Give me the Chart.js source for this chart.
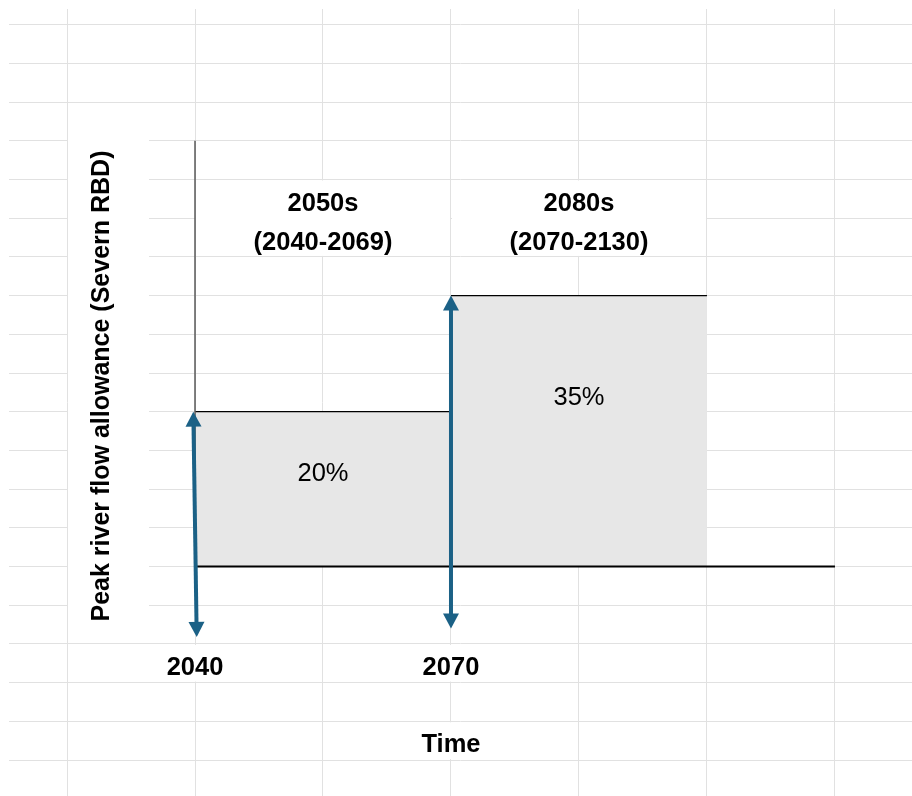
<!DOCTYPE html>
<html>
<head>
<meta charset="utf-8">
<script src="https://cdn.jsdelivr.net/npm/chart.js@4.4.1/dist/chart.umd.min.js"></script>
<style>
  html, body { margin: 0; padding: 0; background: #fff; }
  canvas { display: block; }
</style>
</head>
<body>
<canvas id="allowanceChart" width="912" height="796"></canvas>
<script>
// Epochs and their peak river flow allowances (Severn RBD)
const epochNames = ['2050s', '2080s'];
const epochRanges = ['(2040-2069)', '(2070-2130)'];
const epochStart = [2040, 2070];
const epochEnd = [2070, 2100];
const allowance = [20, 35];
const allowanceLabels = ['20%', '35%'];
const yearLabels = ['2040', '2070'];

// Double-headed arrows at the start of each epoch
const arrowTopYear = [2039.8, 2070];
const arrowBottomYear = [2040.2, 2070];
const arrowBottom = [-9.1, -8];

// Axis lines
const axisTop = 55;
const baselineEnd = 2115;

const xTitle = 'Time';
const yTitle = 'Peak river flow allowance (Severn RBD)';

const FONT = "'Liberation Sans', Arial, sans-serif";
const ARROW_BLUE = '#1b6186';
const GRID = '#e1e1e1';

// white cells where spreadsheet text hides the grid lines
const cellMasks = {
    id: 'cellMasks',
    beforeDatasetsDraw(chart) {
        const ctx = chart.ctx;
        const xs = chart.scales.x, ys = chart.scales.y;
        ctx.save();
        ctx.fillStyle = '#fff';
        // y title cell
        const top = ys.getPixelForValue(60) + 1;
        ctx.fillRect(xs.getPixelForValue(2025) + 1, top, 81, ys.getPixelForValue(-10) - 1 - top);
        // epoch title cells
        const tTop = ys.getPixelForValue(50) + 1;
        const tH = ys.getPixelForValue(40) - 1 - tTop;
        epochStart.forEach((s, i) => {
            const x0 = xs.getPixelForValue(s) + 1;
            const x1 = xs.getPixelForValue(epochEnd[i]) - 1;
            ctx.fillRect(x0, tTop, x1 - x0, tH);
        });
        // year label row and Time row
        const r1 = ys.getPixelForValue(-10) + 1, r1b = ys.getPixelForValue(-15) - 1;
        epochStart.forEach(s => {
            ctx.fillRect(xs.getPixelForValue(s) - 3, r1, 6, r1b - r1);
        });
        const r2 = ys.getPixelForValue(-20) + 1, r2b = ys.getPixelForValue(-25) - 1;
        ctx.fillRect(xs.getPixelForValue(2070) - 3, r2, 6, r2b - r2);
        ctx.restore();
    }
};

// arrows: shaft and both heads from the dataset points
const arrowHeads = {
    id: 'arrowHeads',
    afterDatasetsDraw(chart) {
        const ctx = chart.ctx;
        chart.data.datasets.forEach((ds, i) => {
            if (!ds.arrow) return;
            const pts = chart.getDatasetMeta(i).data;
            const a = pts[0], b = pts[pts.length - 1];
            const dx = b.x - a.x, dy = b.y - a.y;
            const len = Math.hypot(dx, dy);
            const ux = dx / len, uy = dy / len;
            const headLen = 15, headW = 8;
            ctx.save();
            ctx.strokeStyle = ARROW_BLUE;
            ctx.fillStyle = ARROW_BLUE;
            ctx.lineWidth = 4;
            ctx.beginPath();
            ctx.moveTo(a.x + ux * (headLen - 2), a.y + uy * (headLen - 2));
            ctx.lineTo(b.x - ux * (headLen - 2), b.y - uy * (headLen - 2));
            ctx.stroke();
            [[a, -1], [b, 1]].forEach(([p, dir]) => {
                const tx = p.x, ty = p.y;
                const bx = tx - dir * ux * headLen, by = ty - dir * uy * headLen;
                ctx.beginPath();
                ctx.moveTo(tx, ty);
                ctx.lineTo(bx - uy * headW, by + ux * headW);
                ctx.lineTo(bx + uy * headW, by - ux * headW);
                ctx.closePath();
                ctx.fill();
            });
            ctx.restore();
        });
    }
};

// the texts of the diagram
const diagramText = {
    id: 'diagramText',
    afterDatasetsDraw(chart) {
        const ctx = chart.ctx;
        const xs = chart.scales.x, ys = chart.scales.y;
        ctx.save();
        ctx.fillStyle = '#000';
        ctx.textAlign = 'center';
        ctx.textBaseline = 'alphabetic';

        const titleMid = ys.getPixelForValue(45);
        epochNames.forEach((name, i) => {
            const cx = (xs.getPixelForValue(epochStart[i]) + xs.getPixelForValue(epochEnd[i])) / 2;
            ctx.font = 'bold 25.5px ' + FONT;
            ctx.fillText(name, cx, titleMid - 7.5);
            ctx.fillText(epochRanges[i], cx, titleMid + 32);
        });

        const valueRow = [11, 20.9];
        ctx.font = '25.5px ' + FONT;
        allowanceLabels.forEach((lab, i) => {
            const cx = (xs.getPixelForValue(epochStart[i]) + xs.getPixelForValue(epochEnd[i])) / 2;
            ctx.fillText(lab, cx, ys.getPixelForValue(valueRow[i]));
        });

        ctx.font = 'bold 25.5px ' + FONT;
        yearLabels.forEach((lab, i) => {
            ctx.fillText(lab, xs.getPixelForValue(epochStart[i]), ys.getPixelForValue(-14));
        });
        ctx.fillText(xTitle, xs.getPixelForValue(2070), ys.getPixelForValue(-24));

        ctx.font = 'bold 25px ' + FONT;
        ctx.translate(108.5, 386);
        ctx.rotate(-Math.PI / 2);
        ctx.fillText(yTitle, 0, 0);
        ctx.restore();
    }
};

function createChart() {
    const ctx = document.getElementById('allowanceChart').getContext('2d');
    const datasets = [];

    // arrows (drawn by the arrowHeads plugin)
    epochStart.forEach((s, i) => {
        datasets.push({
            arrow: true,
            data: [{ x: arrowTopYear[i], y: allowance[i] }, { x: arrowBottomYear[i], y: arrowBottom[i] }],
            showLine: false,
            pointRadius: 0,
            order: 0
        });
    });

    // vertical axis line and zero line
    datasets.push({
        data: [{ x: epochStart[0], y: axisTop }, { x: epochStart[0], y: 0 }],
        showLine: true, borderColor: '#595959', borderWidth: 1.5, pointRadius: 0, fill: false, order: 1
    });
    datasets.push({
        data: [{ x: epochStart[0], y: 0 }, { x: baselineEnd, y: 0 }],
        showLine: true, borderColor: '#000', borderWidth: 2, pointRadius: 0, fill: false, order: 1
    });

    // allowance blocks
    allowance.forEach((v, i) => {
        datasets.push({
            data: [{ x: epochStart[i], y: v }, { x: epochEnd[i], y: v }],
            showLine: true,
            borderColor: '#000',
            borderWidth: 1.3,
            backgroundColor: '#e7e7e7',
            fill: 'origin',
            pointRadius: 0,
            order: 2
        });
    });

    new Chart(ctx, {
        type: 'scatter',
        data: { datasets: datasets },
        options: {
            responsive: false,
            animation: false,
            events: [],
            layout: { padding: { left: 9, top: 9, right: 0, bottom: 0 } },
            plugins: {
                legend: { display: false },
                tooltip: { enabled: false },
                title: { display: false }
            },
            scales: {
                x: {
                    type: 'linear',
                    min: 2018.2,
                    max: 2124.03,
                    ticks: { display: false, stepSize: 15, includeBounds: false },
                    grid: { color: GRID, lineWidth: 1, drawTicks: false },
                    border: { display: false }
                },
                y: {
                    type: 'linear',
                    min: -29.65,
                    max: 72.03,
                    ticks: { display: false, stepSize: 5, includeBounds: false },
                    grid: { color: GRID, lineWidth: 1, drawTicks: false },
                    border: { display: false }
                }
            }
        },
        plugins: [cellMasks, arrowHeads, diagramText]
    });
}

createChart();
</script>
</body>
</html>
